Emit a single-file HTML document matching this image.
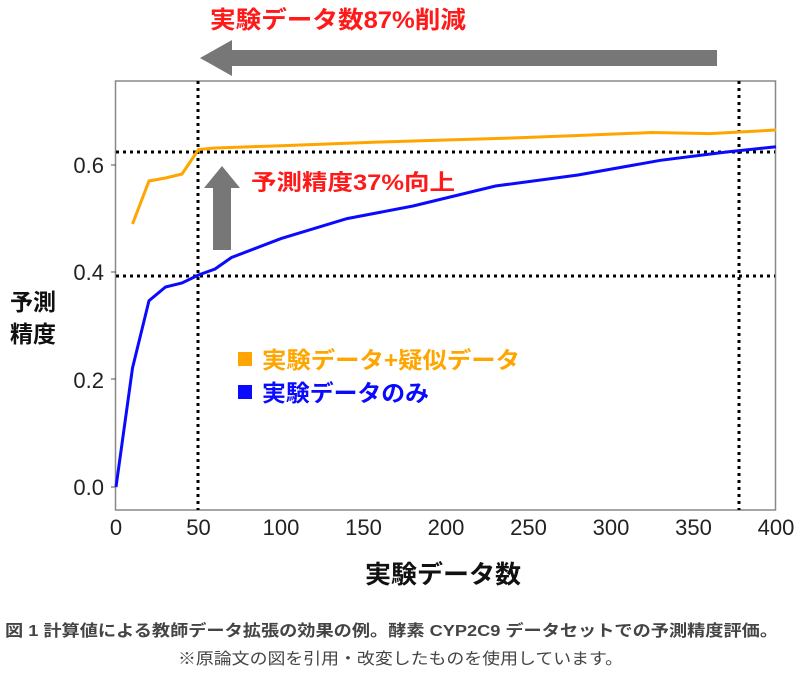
<!DOCTYPE html>
<html><head><meta charset="utf-8"><style>
body{margin:0;background:#fff;width:800px;height:673px;overflow:hidden}
text{font-family:"Liberation Sans","Noto Sans CJK JP",sans-serif}
</style></head><body>
<svg width="800" height="673" viewBox="0 0 800 673" xmlns="http://www.w3.org/2000/svg">
<text x="210" y="28" font-size="24" font-weight="bold" fill="#ff1a1a" textLength="256" lengthAdjust="spacingAndGlyphs">実験データ数87%削減</text>
<polygon points="717,50 717,66 232,66 232,76 200,58 232,40 232,50" fill="#777"/>
<rect x="115.5" y="81" width="660" height="429" fill="none" stroke="#888" stroke-width="1.5"/>
<g stroke="#000" stroke-width="3" stroke-dasharray="3,4" fill="none">
<line x1="198" y1="81" x2="198" y2="510"/>
<line x1="739" y1="81" x2="739" y2="510"/>
<line x1="116" y1="152" x2="775" y2="152"/>
<line x1="116" y1="276" x2="775" y2="276"/>
</g>
<polygon points="213,250 231,250 231,188 240,188 222,166 204,188 213,188" fill="#777"/>
<text x="251" y="190" font-size="22" font-weight="bold" fill="#ff1a1a" textLength="204" lengthAdjust="spacingAndGlyphs">予測精度37%向上</text>
<polyline fill="none" stroke="#ffa500" stroke-width="3" points="132.5,224 149,181 165.5,178 182,174 198.5,149.5 215,148 281,145.7 380,142 446,140 512,138 578,135.5 652,132.5 710,133.6 776,130"/>
<polyline fill="none" stroke="#0a0aff" stroke-width="3" points="116,487 132.5,368 149,300.7 165.5,287 182,283 198.5,275 215,269 231.5,257.5 281,238.6 347,218.6 413,206 495.5,186 578,175 660.5,160.3 726.5,152 776,146.8"/>
<g font-size="22" fill="#222" text-anchor="end">
<text x="104" y="173">0.6</text><text x="104" y="280">0.4</text><text x="104" y="388">0.2</text><text x="104" y="495">0.0</text>
</g>
<g stroke="#555" stroke-width="1"><line x1="111" y1="165" x2="116" y2="165"/><line x1="111" y1="272" x2="116" y2="272"/><line x1="111" y1="379" x2="116" y2="379"/><line x1="111" y1="487" x2="116" y2="487"/></g>
<g font-size="22" fill="#222" text-anchor="middle">
<text x="116" y="535">0</text><text x="198.5" y="535">50</text><text x="281" y="535">100</text><text x="363.5" y="535">150</text><text x="446" y="535">200</text><text x="528.5" y="535">250</text><text x="611" y="535">300</text><text x="693.5" y="535">350</text><text x="776" y="535">400</text>
</g>
<text x="33" y="310" font-size="23" font-weight="bold" fill="#111" text-anchor="middle">予測</text>
<text x="33" y="342" font-size="23" font-weight="bold" fill="#111" text-anchor="middle">精度</text>
<text x="365" y="583" font-size="25" font-weight="bold" fill="#111" textLength="156" lengthAdjust="spacingAndGlyphs">実験データ数</text>
<rect x="238" y="352" width="14" height="14" fill="#ffa500"/>
<text x="262" y="368" font-size="23" font-weight="bold" fill="#ffa500" textLength="258" lengthAdjust="spacingAndGlyphs">実験データ+疑似データ</text>
<rect x="238" y="385" width="14" height="14" fill="#0a0aff"/>
<text x="262" y="401" font-size="23" font-weight="bold" fill="#0a0aff" textLength="167" lengthAdjust="spacingAndGlyphs">実験データのみ</text>
<text x="5" y="636" font-size="16" font-weight="bold" fill="#444" textLength="773" lengthAdjust="spacingAndGlyphs">図 1 計算値による教師データ拡張の効果の例。酵素 CYP2C9 データセットでの予測精度評価。</text>
<text x="178" y="664" font-size="16" fill="#444" textLength="445" lengthAdjust="spacingAndGlyphs">※原論文の図を引用・改変したものを使用しています。</text>
</svg>
</body></html>
